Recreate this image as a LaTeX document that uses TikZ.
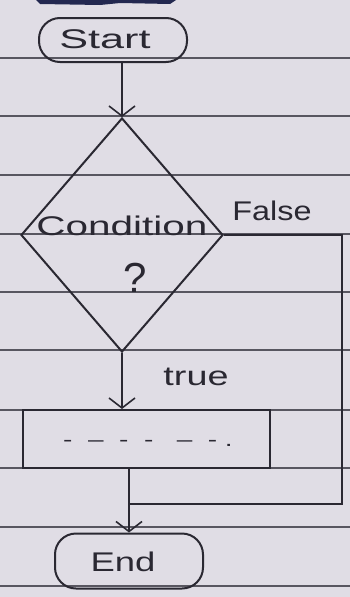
\documentclass[tikz,border=0pt]{standalone}
\usepackage{fontspec}
\setmainfont{Liberation Sans}
\usetikzlibrary{shapes.geometric,arrows.meta,calc}
\definecolor{paper}{RGB}{224,221,229}
\definecolor{rulecol}{RGB}{88,86,96}
\definecolor{ink}{RGB}{42,40,50}
\definecolor{smudge}{RGB}{35,40,80}
\begin{document}
\begin{tikzpicture}[x=1pt,y=-1pt,
  ink line/.style={draw=ink, line width=2pt},
  term/.style={ink line, rounded corners=21pt, inner sep=0pt},
  procbox/.style={ink line, inner sep=0pt},
  lbl/.style={text=ink, inner sep=0pt, font=\fontsize{27}{32}\selectfont},
  flow/.style={ink line, -{Straight Barb[length=10pt,width=26pt,line width=1.6pt]}},
  plain/.style={ink line}]
\fill[paper] (0,0) rectangle (350,597);
\useasboundingbox (0,0) rectangle (350,597);
% notebook rules
\foreach \yy in {58,116,175,234,292,350,410,468,527,586}
  \draw[rulecol, line width=1.2pt] (0,\yy) -- (350,\yy);
% ink smudge at top
\fill[smudge] (36,0) -- (176,0) -- (170,4) -- (120,3) -- (100,5) -- (40,4) -- cycle;
% nodes
\node[term, minimum width=148pt, minimum height=44pt] (start) at (113,40) {};
\node[lbl] (starttxt) at (105,39) {\scalebox{1.6}[1]{Start}};
\node[diamond, ink line, minimum width=202pt, minimum height=234pt, inner sep=0pt] (cond) at (122,235) {};
\node[lbl] (condtxt) at (122,226) {\scalebox{1.5}[1]{Condition}};
\node[lbl, font=\fontsize{42}{46}\selectfont] (q) at (135,278) {?};
\node[lbl] (false) at (272,211) {\scalebox{1.2}[1]{False}};
\node[lbl] (true) at (196,377) {\scalebox{1.4}[1]{true}};
\node[procbox, minimum width=247pt, minimum height=58pt] (proc) at (146.5,439) {};
\node[lbl, font=\fontsize{20}{24}\selectfont] (dots) at (148,443) {\scalebox{1.4}[1]{-\ \ --\ \ -\ \ -\ \ \ --\ \ -\ .}};
\node[term, minimum width=148pt, minimum height=55pt] (end) at (129,561) {};
\node[lbl] (endtxt) at (123,562) {\scalebox{1.35}[1]{End}};
% connectors
\draw[flow] (start.south -| cond.north) -- (cond.north);
\draw[flow] (cond.south) -- (cond.south |- proc.north);
\coordinate (j) at ($(proc.south -| end.north)!0.55!(end.north)$);
\draw[flow] (proc.south -| end.north) -- (end.north);
\draw[plain] (cond.east) -- ++(118,0) coordinate (fr) |- (j);
\end{tikzpicture}
\end{document}
